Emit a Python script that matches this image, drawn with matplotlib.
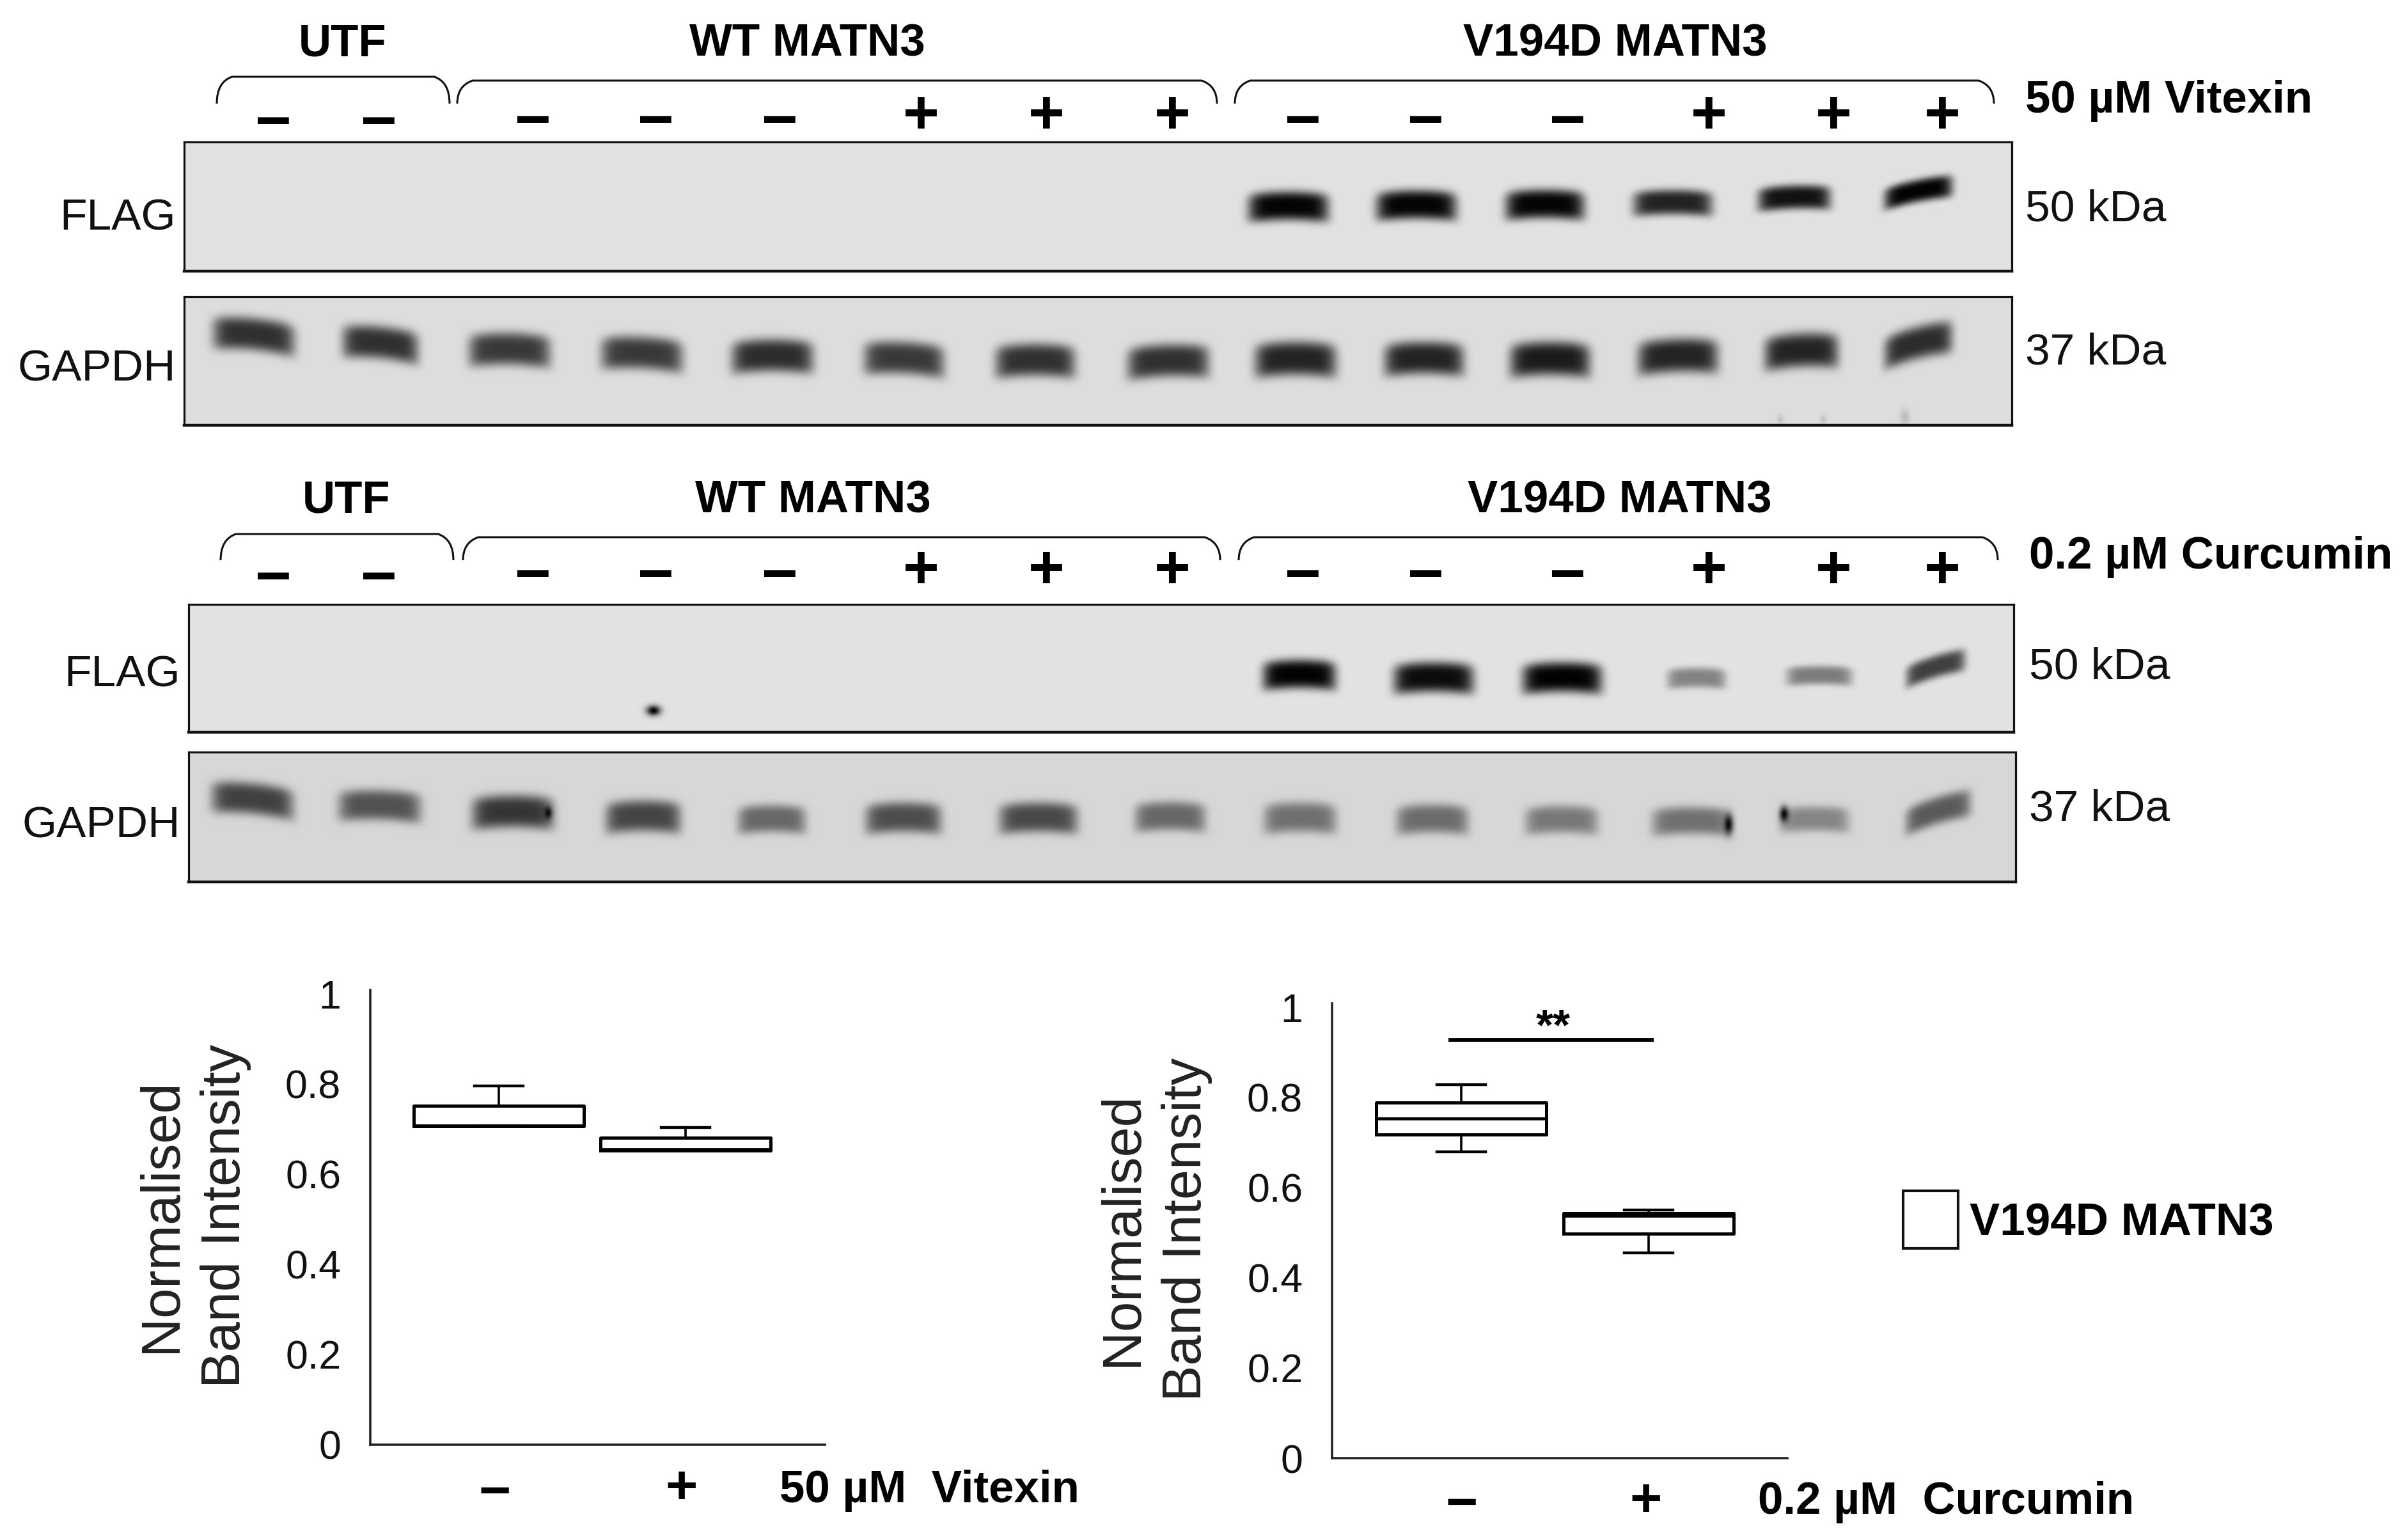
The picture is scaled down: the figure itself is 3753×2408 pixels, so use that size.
import numpy as np
import matplotlib
matplotlib.use('Agg')
import matplotlib.pyplot as plt
from matplotlib.path import Path
from matplotlib.patches import PathPatch, Rectangle

W, H = 3753, 2408

plt.rcParams['font.family'] = ['Liberation Sans', 'DejaVu Sans']

# --- blots (pixels of the picture, darkness 0-1) ---
flag1_x = [2015, 2215, 2416, 2616, 2806, 3000]
flag1_y = [324, 322, 321, 318, 310, 300]
flag1_w = [125, 125, 123, 123, 113, 106]
flag1_h = [46, 46, 46, 40, 38, 36]
flag1_d = [0.98, 0.98, 0.98, 0.85, 0.92, 0.99]
flag1_t = [0, 0, 0, 0, -0.03, -0.2]

gapdh1_x = [397, 595, 797, 1004, 1208, 1414, 1619, 1827, 2026, 2227, 2424, 2624, 2817, 3000, 2784, 2851, 2979]
gapdh1_y = [525, 538, 548, 554, 558, 562, 565, 566, 563, 562, 563, 558, 550, 538, 656, 656, 652]
gapdh1_w = [127, 118, 127, 127, 127, 125, 124, 127, 127, 124, 125, 125, 115, 106, 10, 10, 14]
gapdh1_h = [52, 52, 52, 52, 52, 52, 52, 52, 54, 52, 54, 54, 54, 52, 14, 14, 24]
gapdh1_d = [0.78, 0.78, 0.74, 0.74, 0.8, 0.74, 0.78, 0.78, 0.84, 0.84, 0.88, 0.84, 0.84, 0.8, 0.12, 0.12, 0.15]
gapdh1_t = [0.1, 0.1, 0.02, 0.05, 0, 0.05, 0, -0.03, 0, 0, 0, -0.03, -0.05, -0.25, 0, 0, 0]

flag2_x = [2032, 2242, 2443, 2653, 2845, 3027, 1022]
flag2_y = [1056, 1061, 1061, 1061, 1057, 1044, 1111]
flag2_w = [114, 125, 124, 91, 102, 92, 22]
flag2_h = [46, 48, 48, 32, 30, 36, 16]
flag2_d = [0.99, 0.95, 0.99, 0.42, 0.45, 0.72, 1.0]
flag2_t = [0, 0, 0, 0, 0, -0.3, 0]

gapdh2_x = [395, 594, 802, 1006, 1207, 1413, 1624, 1830, 2033, 2240, 2442, 2645, 2838, 3031, 857, 2703, 2790]
gapdh2_y = [1251, 1261, 1271, 1278, 1282, 1280, 1280, 1278, 1280, 1282, 1283, 1285, 1282, 1269, 1271, 1289, 1273]
gapdh2_w = [127, 128, 127, 117, 106, 118, 122, 110, 113, 112, 113, 122, 107, 101, 12, 14, 14]
gapdh2_h = [50, 48, 52, 50, 44, 48, 48, 46, 48, 46, 44, 44, 40, 44, 18, 30, 24]
gapdh2_d = [0.7, 0.62, 0.75, 0.68, 0.52, 0.64, 0.66, 0.52, 0.48, 0.5, 0.44, 0.48, 0.38, 0.58, 0.9, 0.95, 0.95]
gapdh2_t = [0.1, 0.03, 0, 0, 0, 0, 0, 0, 0, 0, 0, 0, 0, -0.3, 0, 0, 0]

# --- treatment signs above the lanes ---
sign_x = [427, 592, 833, 1025, 1219, 1440, 1636, 1833, 2037, 2229, 2451, 2672, 2867, 3037]
sign_labels = ['−', '−', '−', '−', '−', '+', '+', '+', '−', '−', '−', '+', '+', '+']

# --- box plots ---
vit_labels = ['−', '+']
vit_low = [0.706, 0.652]
vit_q1 = [0.706, 0.652]
vit_med = [0.708, 0.655]
vit_q3 = [0.752, 0.681]
vit_high = [0.796, 0.703]

cur_labels = ['−', '+']
cur_low = [0.680, 0.456]
cur_q1 = [0.718, 0.498]
cur_med = [0.753, 0.537]
cur_q3 = [0.789, 0.543]
cur_high = [0.828, 0.550]

y_ticks = [0, 0.2, 0.4, 0.6, 0.8, 1]
y_ticklabels = ['0', '0.2', '0.4', '0.6', '0.8', '1']

fig = plt.figure(figsize=(W / 100, H / 100), dpi=100, facecolor='white')


def px_axes(x0, y0, x1, y1, **kw):
    return fig.add_axes([x0 / W, 1 - y1 / H, (x1 - x0) / W, (y1 - y0) / H], **kw)


def blot(box, bg, xs, ys, ws, hs, ds, ts):
    x0, y0, x1, y1 = box
    ax = px_axes(x0, y0, x1, y1)
    X, Y = np.meshgrid(np.arange(x0, x1) + 0.5, np.arange(y0, y1) + 0.5)
    img = np.full(X.shape, float(bg))
    for cx, cy, w, h, d, t in zip(xs, ys, ws, hs, ds, ts):
        dx = (X - cx) / (w / 2)
        dy = (Y - cy - t * (X - cx)) / (h / 2)
        if w < 30:
            # specks and smudges, not bands
            shape = np.exp(-dx ** 2 - dy ** 2)
        else:
            # the bands hang down a little at the ends
            dy = dy - 0.2 * dx ** 2 + 0.1
            shape = np.exp(-np.abs(dx) ** 7) * np.exp(-np.abs(dy) ** 3.5)
        img *= 1 - d * shape
    ax.imshow(img, cmap='gray', vmin=0, vmax=1, aspect='auto', interpolation='bilinear',
              extent=(x0, x1, y1, y0))
    ax.set_xticks([])
    ax.set_yticks([])
    for s in ax.spines.values():
        s.set_linewidth(2.3)
        s.set_color('#111111')
    ax.spines['bottom'].set_linewidth(3.2)
    return ax


blot((288, 222, 3146, 424), 0.885, flag1_x, flag1_y, flag1_w, flag1_h, flag1_d, flag1_t)
blot((288, 464, 3146, 665), 0.865, gapdh1_x, gapdh1_y, gapdh1_w, gapdh1_h, gapdh1_d, gapdh1_t)
blot((295, 945, 3149, 1145), 0.885, flag2_x, flag2_y, flag2_w, flag2_h, flag2_d, flag2_t)
blot((295, 1176, 3152, 1379), 0.84, gapdh2_x, gapdh2_y, gapdh2_w, gapdh2_h, gapdh2_d, gapdh2_t)


def box_chart(box, xlim, positions, low, q1, med, q3, high, labels):
    x0, y0, x1, y1 = box
    ax = px_axes(x0, y0, x1, y1)
    stats = [dict(med=m, q1=a, q3=b, whislo=l, whishi=h, fliers=[], label=n)
             for m, a, b, l, h, n in zip(med, q1, q3, low, high, labels)]
    ax.bxp(stats, positions=positions, widths=0.91, capwidths=0.26, showfliers=False,
           boxprops=dict(color='black', linewidth=3.6),
           medianprops=dict(color='black', linewidth=3.4),
           whiskerprops=dict(color='black', linewidth=2.6),
           capprops=dict(color='black', linewidth=3.2))
    ax.set_xlim(xlim)
    ax.set_ylim(0, 1.0085)
    ax.set_xticks([])
    ax.set_yticks(y_ticks)
    ax.set_yticklabels(y_ticklabels, fontsize=45, color='#111111')
    ax.tick_params(axis='y', length=0, pad=33)
    for s in ['top', 'right']:
        ax.spines[s].set_visible(False)
    for s in ['left', 'bottom']:
        ax.spines[s].set_linewidth(2.6)
        ax.spines[s].set_color('#222222')
    return ax


box_chart((579, 1548, 1290, 2259), (0.312, 2.747), [1, 2],
          vit_low, vit_q1, vit_med, vit_q3, vit_high, vit_labels)
box_chart((2083, 1569, 2795, 2280), (0.31, 2.74), [1, 2],
          cur_low, cur_q1, cur_med, cur_q3, cur_high, cur_labels)

# overlay in picture pixels for labels, brackets and signs
ov = px_axes(0, 0, W, H)
ov.set_xlim(0, W)
ov.set_ylim(H, 0)
ov.axis('off')
ov.patch.set_alpha(0)


def bracket(x0, x1, top, end):
    r = 24
    verts = [(x0, end), (x0, top + 8), (x0 + r, top), (x1 - r, top), (x1, top + 8), (x1, end)]
    codes = [Path.MOVETO, Path.CURVE3, Path.CURVE3, Path.LINETO, Path.CURVE3, Path.CURVE3]
    ov.add_patch(PathPatch(Path(verts, codes), fill=False, lw=2.2, edgecolor='#111111'))


bold = dict(fontsize=51, fontweight='bold', color='black', va='center')
plain = dict(fontsize=50, color='#111111', va='center')
sign = dict(fontsize=70, fontweight='bold', color='black', ha='center', va='baseline')
small_sign = dict(fontsize=62, fontweight='bold', color='black', ha='center', va='baseline')

# top blot
bracket(339, 703, 120, 162)
bracket(715, 1903, 126, 162)
bracket(1931, 3118, 126, 162)
ov.text(536, 69, 'UTF', ha='center', **bold)
ov.text(1262, 69, 'WT MATN3', ha='center', **bold)
ov.text(2526, 69, 'V194D MATN3', ha='center', **bold)
ov.text(3167, 158, '50 µM Vitexin', ha='left', **bold)
ov.text(275, 342, 'FLAG', ha='right', **plain)
ov.text(275, 578, 'GAPDH', ha='right', **plain)
ov.text(3167, 328, '50 kDa', ha='left', **plain)
ov.text(3167, 552, '37 kDa', ha='left', **plain)

# second blot
bracket(345, 709, 835, 876)
bracket(724, 1908, 840, 876)
bracket(1937, 3124, 840, 876)
ov.text(542, 783, 'UTF', ha='center', **bold)
ov.text(1271, 783, 'WT MATN3', ha='center', **bold)
ov.text(2533, 783, 'V194D MATN3', ha='center', **bold)
ov.text(3173, 871, '0.2 µM Curcumin', ha='left', **bold)
ov.text(282, 1055, 'FLAG', ha='right', **plain)
ov.text(282, 1292, 'GAPDH', ha='right', **plain)
ov.text(3173, 1044, '50 kDa', ha='left', **plain)
ov.text(3173, 1265, '37 kDa', ha='left', **plain)

for i, (x, s) in enumerate(zip(sign_x, sign_labels)):
    top_c = (189 if i < 2 else 187) if s == '−' else 177
    low_c = (901 if i < 2 else 897) if s == '−' else 888
    ov.text(x, top_c + 32, s, **sign)
    ov.text(x, low_c + 32, s, **sign)

# box plot labels
ylab = dict(fontsize=61, color='#222222', rotation=90, ha='center', va='center',
            multialignment='center', linespacing=1.32)
ov.text(303, 1901, 'Normalised\nBand Intensity', **ylab)
ov.text(1806, 1922, 'Normalised\nBand Intensity', **ylab)

ov.text(774, 2331 + 28, vit_labels[0], **small_sign)
ov.text(1066, 2323 + 28, vit_labels[1], **small_sign)
ov.text(1219, 2331, '50 µM  Vitexin', ha='left', **bold)
ov.text(2286, 2349 + 28, cur_labels[0], **small_sign)
ov.text(2574, 2343 + 28, cur_labels[1], **small_sign)
ov.text(2749, 2349, '0.2 µM  Curcumin', ha='left', **bold)

# significance bar and legend
ov.plot([2265, 2586], [1626, 1626], color='black', lw=4.2, solid_capstyle='butt')
ov.text(2429, 1607, '**', ha='center', va='center', fontsize=50, fontweight='bold', color='black')
ov.add_patch(Rectangle((2976, 1862), 86, 90, fill=False, edgecolor='#111111', lw=3))
ov.text(3080, 1913, 'V194D MATN3', ha='left', **bold)

fig.savefig('out.png', dpi=100)
